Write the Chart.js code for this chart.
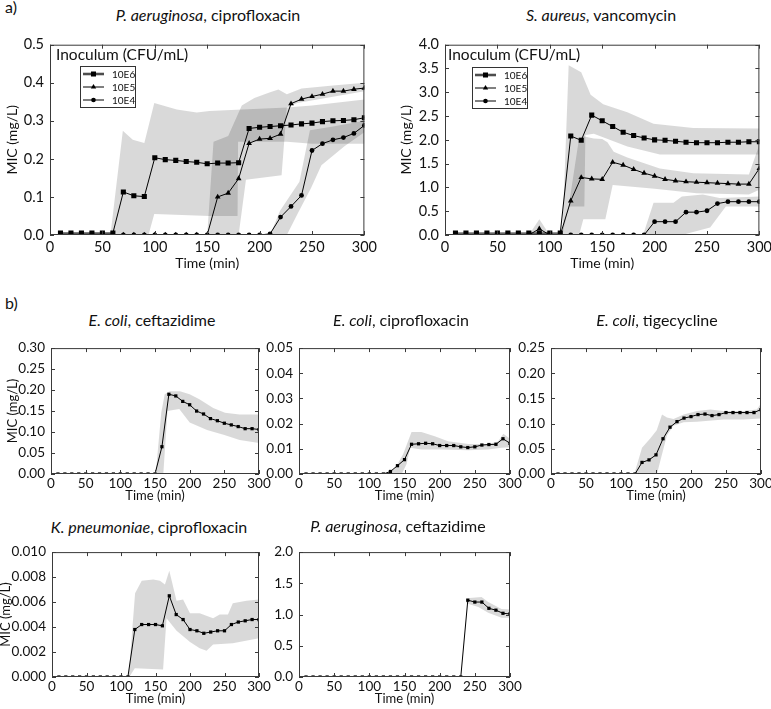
<!DOCTYPE html>
<html><head><meta charset="utf-8">
<script src="https://cdn.jsdelivr.net/npm/chart.js@4.4.1/dist/chart.umd.min.js"></script>
<style>
html,body{margin:0;padding:0;background:#fff;}
body{width:771px;height:709px;position:relative;overflow:hidden;font-family:Lato,"Open Sans",sans-serif;color:#111;}
.txt{position:absolute;white-space:nowrap;line-height:1;transform:translate(-50%,-50%);}
.ttl{font-size:16px;}
.lab{font-size:16px;transform:none;}
.legt{position:absolute;white-space:nowrap;font-size:15.5px;line-height:1;transform:translateY(-50%);}
.legbox{position:absolute;border:1px solid #333;background:#fff;box-sizing:border-box;}
.legrow{position:absolute;left:0;height:12px;width:100%;}
.legrow span{position:absolute;left:31px;top:0;font-size:10px;line-height:12px;}
.legrow svg{position:absolute;left:0;top:0;}
.wrap{position:absolute;}
</style></head><body>
<script>
// ---------- data ----------
const TIME = [10,20,30,40,50,60,70,80,90,100,110,120,130,140,150,160,170,180,190,200,210,220,230,240,250,260,270,280,290,300];
const X_TICKS = [0,50,100,150,200,250,300];

// a) P. aeruginosa, ciprofloxacin
const A1_Y_TICKS = [0,0.1,0.2,0.3,0.4,0.5];
const A1_10E6 = [0.005,0.005,0.005,0.005,0.005,0.005,0.113,0.103,0.101,0.203,0.198,0.196,0.193,0.191,0.187,0.189,0.189,0.19,0.28,0.283,0.285,0.287,0.289,0.292,0.294,0.298,0.3,0.301,0.303,0.308];
const A1_10E5 = [0,0,0,0,0,0,0,0,0,0,0,0,0,0,0,0.1,0.11,0.148,0.241,0.252,0.254,0.265,0.345,0.357,0.364,0.37,0.378,0.378,0.383,0.386];
const A1_10E4 = [0,0,0,0,0,0,0,0,0,0,0,0,0,0,0,0,0,0,0,0,0.003,0.047,0.075,0.104,0.222,0.24,0.25,0.256,0.267,0.288];
const A1_B6_HI_X = [10,58,69.5,79,90,99.5,121,140,152,183,226,250,300];
const A1_B6_HI   = [0.008,0.008,0.274,0.25,0.242,0.347,0.33,0.322,0.326,0.33,0.335,0.34,0.356];
const A1_B6_LO_X = [10,94,99.5,152,179,179.5,226,250,300];
const A1_B6_LO   = [0,0,0.055,0.05,0.05,0.245,0.245,0.24,0.24];
const A1_B5_HI_X = [150,156,170,183,195,210,218,226,240,270,300];
const A1_B5_HI   = [0,0.245,0.26,0.34,0.36,0.375,0.382,0.37,0.385,0.393,0.40];
const A1_B5_LO_X = [150,180,187,221,226,236,300];
const A1_B5_LO   = [0,0,0.145,0.157,0.335,0.347,0.378];
const A1_B4_HI_X = [210,219.5,238,248,270,300];
const A1_B4_HI   = [0,0.064,0.14,0.275,0.285,0.30];
const A1_B4_LO_X = [210,226,237,249,259,281,300];
const A1_B4_LO   = [0,0,0.06,0.123,0.183,0.233,0.27];

// a) S. aureus, vancomycin
const A2_Y_TICKS = [0,0.5,1,1.5,2,2.5,3,3.5,4];
const A2_10E6 = [0.04,0.04,0.04,0.04,0.04,0.04,0.04,0.04,0.04,0.04,0.04,2.08,1.99,2.52,2.40,2.28,2.16,2.09,2.04,2.00,1.99,1.97,1.95,1.94,1.94,1.94,1.95,1.95,1.96,1.96];
const A2_10E5 = [0,0,0,0,0,0,0,0,0.13,0,0,0.72,1.21,1.18,1.17,1.53,1.47,1.38,1.30,1.24,1.17,1.14,1.12,1.11,1.10,1.09,1.08,1.07,1.07,1.40];
const A2_10E4 = [0,0,0,0,0,0,0,0,0,0,0,0,0,0,0,0,0,0,0,0.28,0.28,0.28,0.48,0.48,0.51,0.66,0.70,0.70,0.70,0.70];
const A2_B6_HI_X = [112,118,130,139,151,174,199,237,300];
const A2_B6_HI   = [0,3.57,3.42,2.95,2.75,2.58,2.34,2.25,2.24];
const A2_B6_LO_X = [112,118,133,134,142,174,205,300];
const A2_B6_LO   = [0,0.6,0.6,2.1,2.13,1.86,1.69,1.69];
const A2_B5P_HI_X = [80,90,100];
const A2_B5P_HI   = [0,0.33,0];
const A2_B5P_LO_X = [80,100];
const A2_B5P_LO   = [0,0];
const A2_B5_HI_X = [110,118,128,133,142,150,155,161,174,205,237,290,300];
const A2_B5_HI   = [0,0.6,2.05,2.07,2.03,2.02,1.95,1.75,1.63,1.40,1.30,1.27,1.9];
const A2_B5_LO_X = [110,128,132,153,160,200,240,290,300];
const A2_B5_LO   = [0,0,0.33,0.33,1.05,0.97,0.88,0.85,0.95];
const A2_B4_HI_X = [189,199,218,226,246,262,300];
const A2_B4_HI   = [0,0.68,0.68,0.81,0.85,0.78,0.81];
const A2_B4_LO_X = [189,226,253,268,300];
const A2_B4_LO   = [0,0,0.16,0.6,0.6];

// b) E. coli, ceftazidime
const B1_Y_TICKS = [0,0.05,0.10,0.15,0.20,0.25,0.30];
const B1_MIC = [0,0,0,0,0,0,0,0,0,0,0,0,0,0,0,0.065,0.19,0.186,0.173,0.165,0.15,0.143,0.132,0.127,0.121,0.117,0.113,0.108,0.108,0.106];
const B1_HI_X = [151,159,164,171,186,200,214,234,251,272,300];
const B1_HI   = [0,0.146,0.19,0.197,0.197,0.19,0.178,0.157,0.146,0.142,0.142];
const B1_LO_X = [157,162,168,185,200,225,250,272,300];
const B1_LO   = [0,0,0.15,0.155,0.123,0.105,0.093,0.081,0.074];

// b) E. coli, ciprofloxacin
const B2_Y_TICKS = [0,0.01,0.02,0.03,0.04,0.05];
const B2_MIC = [0,0,0,0,0,0,0,0,0,0,0,0,0.001,0.0033,0.0057,0.0118,0.012,0.0122,0.012,0.0113,0.0113,0.0113,0.0108,0.0105,0.0108,0.0115,0.0117,0.0118,0.014,0.0122];
const B2_HI_X = [122,136,148,160,174,193,212,241,269,283,290.5,300];
const B2_HI   = [0,0.002,0.0078,0.0167,0.0167,0.015,0.013,0.0119,0.0119,0.0129,0.016,0.014];
const B2_LO_X = [122,146,153,158,174,203,241,269,288,300];
const B2_LO   = [0,0,0.004,0.0104,0.0097,0.0097,0.0094,0.0097,0.0104,0.0106];

// b) E. coli, tigecycline
const B3_Y_TICKS = [0,0.05,0.10,0.15,0.20,0.25];
const B3_MIC = [0,0,0,0,0,0,0,0,0,0,0,0,0.023,0.028,0.038,0.07,0.093,0.104,0.111,0.114,0.118,0.119,0.116,0.118,0.122,0.122,0.122,0.122,0.122,0.128];
const B3_HI_X = [119,130,142,151,158.6,165.7,175,189.5,208.6,227.6,246.7,275,294,300];
const B3_HI   = [0,0.052,0.071,0.087,0.118,0.112,0.109,0.118,0.125,0.128,0.125,0.125,0.128,0.14];
const B3_LO_X = [119,151.4,158.6,165.7,175,189.5,208.6,246.7,275,300];
const B3_LO   = [0,0,0.039,0.077,0.096,0.103,0.104,0.108,0.108,0.11];

// b) K. pneumoniae, ciprofloxacin
const B4_Y_TICKS = [0,0.002,0.004,0.006,0.008,0.010];
const B4_MIC = [0,0,0,0,0,0,0,0,0,0,0,0.0038,0.0042,0.0042,0.0042,0.0041,0.0065,0.0050,0.0046,0.0038,0.0037,0.0035,0.0036,0.0037,0.0037,0.0042,0.0044,0.0045,0.0046,0.0046];
const B4_HI_X = [111,120.4,130,146.8,156.5,163.7,170,180.5,190,200,214,233.5,243,255,262,281.7,300];
const B4_HI   = [0,0.0067,0.0077,0.0078,0.0077,0.0074,0.0085,0.0061,0.0062,0.0051,0.0051,0.0047,0.005,0.005,0.0059,0.0061,0.0062];
const B4_LO_X = [112,120,161,166,180.5,200,214,224,233.5,262,300];
const B4_LO   = [0,0.0007,0.0006,0.0047,0.0037,0.0028,0.0023,0.0021,0.0026,0.0027,0.0031];

// b) P. aeruginosa, ceftazidime
const B5_Y_TICKS = [0,0.5,1,1.5,2];
const B5_MIC = [0,0,0,0,0,0,0,0,0,0,0,0,0,0,0,0,0,0,0,0,0,0,0,1.23,1.20,1.20,1.10,1.07,1.02,1.01];
const B5_HI_X = [238,259.6,269,288,300];
const B5_HI   = [1.26,1.28,1.2,1.09,1.08];
const B5_LO_X = [238,255,269,288,300];
const B5_LO   = [1.18,1.12,1.03,0.95,0.95];

const SERIES_NAMES = ['10E6','10E5','10E4'];

// ---------- helpers ----------
const FONT = 'Lato, "Open Sans", sans-serif';
const BAND = 'rgba(0,0,0,0.15)';
function pts(xs, ys){ return xs.map((x,i)=>({x:x, y:ys[i]})); }
function polygon(hx, hy, lx, ly){
  const p = pts(hx, hy);
  for (let i = lx.length-1; i >= 0; i--) p.push({x:lx[i], y:ly[i]});
  return p;
}
function band(hx, hy, lx, ly){
  return {data: polygon(hx,hy,lx,ly), fill:'shape', backgroundColor:BAND, borderColor:'rgba(0,0,0,0)', borderWidth:0, pointRadius:0, tension:0};
}
function line(ys, style, r){
  return {data: pts(TIME, ys), borderColor:'#000', borderWidth:1, pointStyle:style, pointRadius:r, pointBackgroundColor:'#000', pointBorderColor:'#000', pointBorderWidth:0, fill:false, tension:0};
}

const framePlugin = {
  id:'frame',
  afterDatasetsDraw(chart){
    const {ctx, chartArea:a, scales:{x,y}} = chart;
    ctx.save();
    ctx.strokeStyle = '#3a3a3a'; ctx.lineWidth = 1;
    ctx.strokeRect(a.left+0.5, a.top+0.5, a.right-a.left-1, a.bottom-a.top-1);
    ctx.beginPath();
    x.ticks.forEach(t=>{ const px = Math.round(x.getPixelForValue(t.value))+0.5;
      ctx.moveTo(px, a.bottom); ctx.lineTo(px, a.bottom-4); ctx.moveTo(px, a.top); ctx.lineTo(px, a.top+4); });
    y.ticks.forEach(t=>{ const py = Math.round(y.getPixelForValue(t.value))+0.5;
      ctx.moveTo(a.left, py); ctx.lineTo(a.left+4, py); ctx.moveTo(a.right, py); ctx.lineTo(a.right-4, py); });
    ctx.stroke();
    ctx.restore();
  }
};

function makeChart(p, datasets){
  const PL = p.PL || 50, PT = 8, PR = 14;
  const W = p.R - p.L + PL + PR, H = p.B - p.T + PT + p.PB;
  const wrap = document.createElement('div');
  wrap.className = 'wrap';
  wrap.style.left = (p.L-PL)+'px'; wrap.style.top = (p.T-PT)+'px';
  wrap.style.width = W+'px'; wrap.style.height = H+'px';
  const cv = document.createElement('canvas');
  cv.width = W; cv.height = H; cv.style.width = W+'px'; cv.style.height = H+'px';
  wrap.appendChild(cv); document.body.appendChild(wrap);
  const yt = p.yticks;
  new Chart(cv, {
    type:'line',
    data:{datasets},
    options:{
      responsive:false, animation:false, devicePixelRatio:1, events:[],
      layout:{padding:{top:PT, right:PR, left:0, bottom:0}},
      plugins:{legend:{display:false}, tooltip:{enabled:false}, filler:{drawTime:'beforeDatasetsDraw'}},
      scales:{
        x:{type:'linear', min:0, max:300,
           afterBuildTicks:s=>{ s.ticks = X_TICKS.map(v=>({value:v})); },
           afterFit:s=>{ s.height = p.PB; },
           grid:{display:false, drawTicks:false}, border:{display:false},
           ticks:{padding:p.xpad, color:'#111', font:{family:FONT, size:p.tf}, maxRotation:0, autoSkip:false, callback:v=>String(v)},
           title:{display:true, text:'Time (min)', color:'#111', font:{family:FONT, size:p.af}, padding:{top:0, bottom:p.xtpad}}},
        y:{type:'linear', min:yt[0], max:yt[yt.length-1],
           afterBuildTicks:s=>{ s.ticks = yt.map(v=>({value:v})); },
           afterFit:s=>{ s.width = PL; },
           grid:{display:false, drawTicks:false}, border:{display:false},
           ticks:{padding:6, color:'#111', font:{family:FONT, size:p.tf}, autoSkip:false, callback:v=>Number(v).toFixed(p.dec)},
           title:{display:p.ytitle, text:'MIC (mg/L)', color:'#111', font:{family:FONT, size:p.af}, padding:{top:p.ytpad, bottom:0}}}
      }
    },
    plugins:[framePlugin]
  });
}

function addText(cls, html, x, y){
  const d = document.createElement('div');
  d.className = 'txt '+cls; d.innerHTML = html;
  d.style.left = x+'px'; d.style.top = y+'px';
  document.body.appendChild(d);
}

function addLegend(tx, ty, bx, by){
  const t = document.createElement('div');
  t.className = 'legt'; t.textContent = 'Inoculum (CFU/mL)';
  t.style.left = tx+'px'; t.style.top = ty+'px';
  document.body.appendChild(t);
  const b = document.createElement('div');
  b.className = 'legbox';
  b.style.left = bx+'px'; b.style.top = by+'px'; b.style.width = '56px'; b.style.height = '42px';
  const marks = [
    '<line x1="2" y1="6" x2="23" y2="6" stroke="#9a9a9a" stroke-width="3"/><line x1="2" y1="6" x2="23" y2="6" stroke="#000" stroke-width="1"/><rect x="10" y="3.5" width="5" height="5" fill="#000"/>',
    '<line x1="2" y1="6" x2="23" y2="6" stroke="#000" stroke-width="1"/><polygon points="12.5,3 15.2,7.6 9.8,7.6" fill="#000"/>',
    '<line x1="2" y1="6" x2="23" y2="6" stroke="#000" stroke-width="1"/><circle cx="12.5" cy="6" r="2.3" fill="#000"/>'
  ];
  SERIES_NAMES.forEach((n,i)=>{
    const r = document.createElement('div');
    r.className = 'legrow'; r.style.top = (0.5 + i*13.3)+'px';
    r.innerHTML = '<svg width="26" height="12">'+marks[i]+'</svg><span>'+n+'</span>';
    b.appendChild(r);
  });
  document.body.appendChild(b);
}

// ---------- panels ----------
const rowA = {PB:40, xpad:4, xtpad:3, tf:14.5, af:14};
const rowB1 = {PB:34, xpad:1.5, xtpad:4, tf:13.5, af:13};
const rowB2 = {PB:31, xpad:1.5, xtpad:1, tf:13.5, af:13};

makeChart(Object.assign({L:50, T:38, R:367, B:235, yticks:A1_Y_TICKS, dec:1, ytitle:true, ytpad:4.5}, rowA), [
  band(A1_B6_HI_X, A1_B6_HI, A1_B6_LO_X, A1_B6_LO),
  band(A1_B5_HI_X, A1_B5_HI, A1_B5_LO_X, A1_B5_LO),
  band(A1_B4_HI_X, A1_B4_HI, A1_B4_LO_X, A1_B4_LO),
  line(A1_10E6, 'rect', 3.6),
  line(A1_10E5, 'triangle', 3.3),
  line(A1_10E4, 'circle', 2.4)
]);
makeChart(Object.assign({L:445, T:38, R:762, B:235, yticks:A2_Y_TICKS, dec:1, ytitle:true, ytpad:3.5}, rowA), [
  band(A2_B6_HI_X, A2_B6_HI, A2_B6_LO_X, A2_B6_LO),
  band(A2_B5P_HI_X, A2_B5P_HI, A2_B5P_LO_X, A2_B5P_LO),
  band(A2_B5_HI_X, A2_B5_HI, A2_B5_LO_X, A2_B5_LO),
  band(A2_B4_HI_X, A2_B4_HI, A2_B4_LO_X, A2_B4_LO),
  line(A2_10E6, 'rect', 3.6),
  line(A2_10E5, 'triangle', 3.3),
  line(A2_10E4, 'circle', 2.4)
]);
makeChart(Object.assign({L:51, T:342, R:259, B:474, yticks:B1_Y_TICKS, dec:2, ytitle:true, ytpad:4}, rowB1), [
  band(B1_HI_X, B1_HI, B1_LO_X, B1_LO), line(B1_MIC, 'rect', 2.3)
]);
makeChart(Object.assign({L:299, T:342, R:510, B:474, yticks:B2_Y_TICKS, dec:2, ytitle:false, ytpad:0}, rowB1), [
  band(B2_HI_X, B2_HI, B2_LO_X, B2_LO), line(B2_MIC, 'rect', 2.3)
]);
makeChart(Object.assign({L:551, T:342, R:761, B:474, yticks:B3_Y_TICKS, dec:2, ytitle:false, ytpad:0}, rowB1), [
  band(B3_HI_X, B3_HI, B3_LO_X, B3_LO), line(B3_MIC, 'rect', 2.3)
]);
makeChart(Object.assign({L:52, PL:52, T:546, R:259, B:677, yticks:B4_Y_TICKS, dec:3, ytitle:true, ytpad:-1.5}, rowB2), [
  band(B4_HI_X, B4_HI, B4_LO_X, B4_LO), line(B4_MIC, 'rect', 2.3)
]);
makeChart(Object.assign({L:299, T:546, R:510, B:677, yticks:B5_Y_TICKS, dec:1, ytitle:false, ytpad:0}, rowB2), [
  band(B5_HI_X, B5_HI, B5_LO_X, B5_LO), line(B5_MIC, 'rect', 2.3)
]);

// ---------- text ----------
addText('lab', 'a)', 5, -1);
addText('lab', 'b)', 5, 295);
addText('ttl', '<i>P. aeruginosa</i>, ciprofloxacin', 208, 15);
addText('ttl', '<i>S. aureus</i>, vancomycin', 601, 15);
addText('ttl', '<i>E. coli</i>, ceftazidime', 152, 320);
addText('ttl', '<i>E. coli</i>, ciprofloxacin', 401, 320);
addText('ttl', '<i>E. coli</i>, tigecycline', 657, 320);
addText('ttl', '<i>K. pneumoniae</i>, ciprofloxacin', 149, 527);
addText('ttl', '<i>P. aeruginosa</i>, ceftazidime', 398, 526);
addLegend(56, 55, 80, 66);
addLegend(448, 55, 472, 67);
</script>
</body></html>
